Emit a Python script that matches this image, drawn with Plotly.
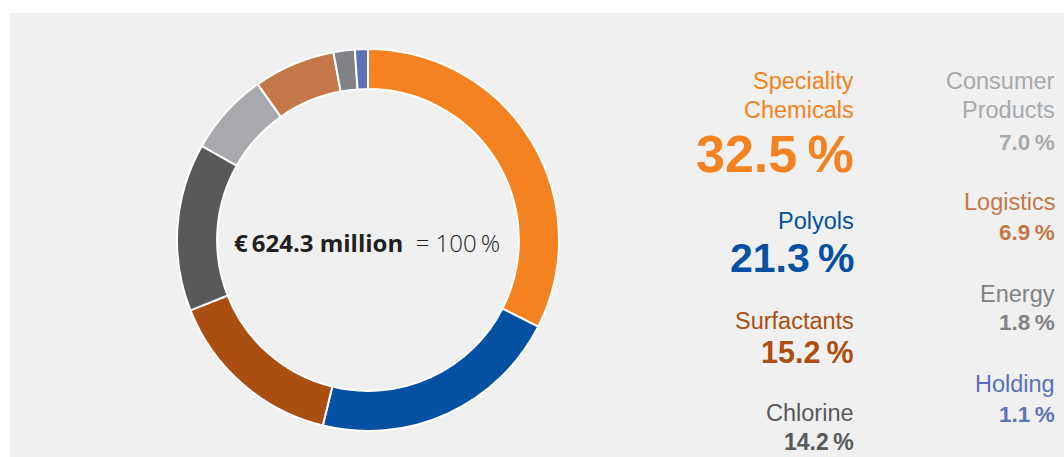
import plotly.graph_objects as go

# Sales by segment (share of total, %)
segments = ["Speciality Chemicals", "Polyols", "Surfactants", "Chlorine",
            "Consumer Products", "Logistics", "Energy", "Holding"]
shares = [32.5, 21.3, 15.2, 14.2, 7.0, 6.9, 1.8, 1.1]
colors = ["#f58220", "#0450a2", "#ab4e12", "#58595b",
          "#a7a9ac", "#c47849", "#808285", "#5b72b8"]
label_lines = [["Speciality", "Chemicals"], ["Polyols"], ["Surfactants"], ["Chlorine"],
               ["Consumer", "Products"], ["Logistics"], ["Energy"], ["Holding"]]
total_sales = "€\u2009624.3 million"
total_share = "= 100\u2009%"

W, H = 1064, 457
BG = "#eff0ef"
LABEL_FONT = "Liberation Sans"
LABEL_ASCENT = 0.905    # ascender of the label font, in em
CENTER_FONT = "Open Sans"
NAME_SIZE = 23.5


def px(x):
    return x / W


def py(y):
    return 1 - y / H


fig = go.Figure()
fig.add_trace(go.Pie(
    labels=segments,
    values=shares,
    hole=0.79,
    sort=False,
    direction="clockwise",
    rotation=0,
    marker=dict(colors=colors, line=dict(color="#ffffff", width=2)),
    textinfo="none",
    hoverinfo="label+percent",
    showlegend=False,
    domain=dict(x=[px(177), px(559)], y=[py(431), py(49)]),
))

# label blocks: right edge, baselines of the name lines, baseline of the value, value size
label_layout = [
    (854, [89, 118], 172, 52),
    (854, [229.5], 272, 41),
    (854, [329.5], 362.5, 30.5),
    (854, [421], 450, 23),
    (1055, [89, 118], 150, 22.5),
    (1055, [210], 240, 22.5),
    (1055, [302], 330, 22.5),
    (1055, [392], 422, 22.5),
]


def text_line(x_right, baseline, text, size, color):
    return dict(
        x=px(x_right), y=py(baseline - LABEL_ASCENT * size),
        xref="paper", yref="paper", xanchor="right", yanchor="top", align="right",
        showarrow=False, borderpad=0, borderwidth=0,
        text=text, font=dict(family=LABEL_FONT, size=size, color=color),
    )


annotations = []
for lines, share, color, (xr, name_ys, val_y, val_size) in zip(
        label_lines, shares, colors, label_layout):
    for text, y in zip(lines, name_ys):
        annotations.append(text_line(xr, y, text, NAME_SIZE, color))
    annotations.append(text_line(xr, val_y, f"<b>{share:.1f}\u2009%</b>", val_size, color))

annotations.append(dict(
    x=px(367), y=py(242), xref="paper", yref="paper",
    xanchor="center", yanchor="middle", showarrow=False,
    text=f'<b>{total_sales}</b>  <span style="font-weight:300">{total_share}</span>',
    font=dict(family=CENTER_FONT, size=24, color="#231f20"),
))

fig.update_layout(
    width=W, height=H,
    margin=dict(l=0, r=0, t=0, b=0),
    paper_bgcolor="#ffffff",
    plot_bgcolor="#ffffff",
    shapes=[dict(type="rect", xref="paper", yref="paper",
                 x0=px(10), x1=1, y0=0, y1=py(13),
                 fillcolor=BG, line=dict(width=0), layer="below")],
    annotations=annotations,
)

fig.write_html("out.html")
